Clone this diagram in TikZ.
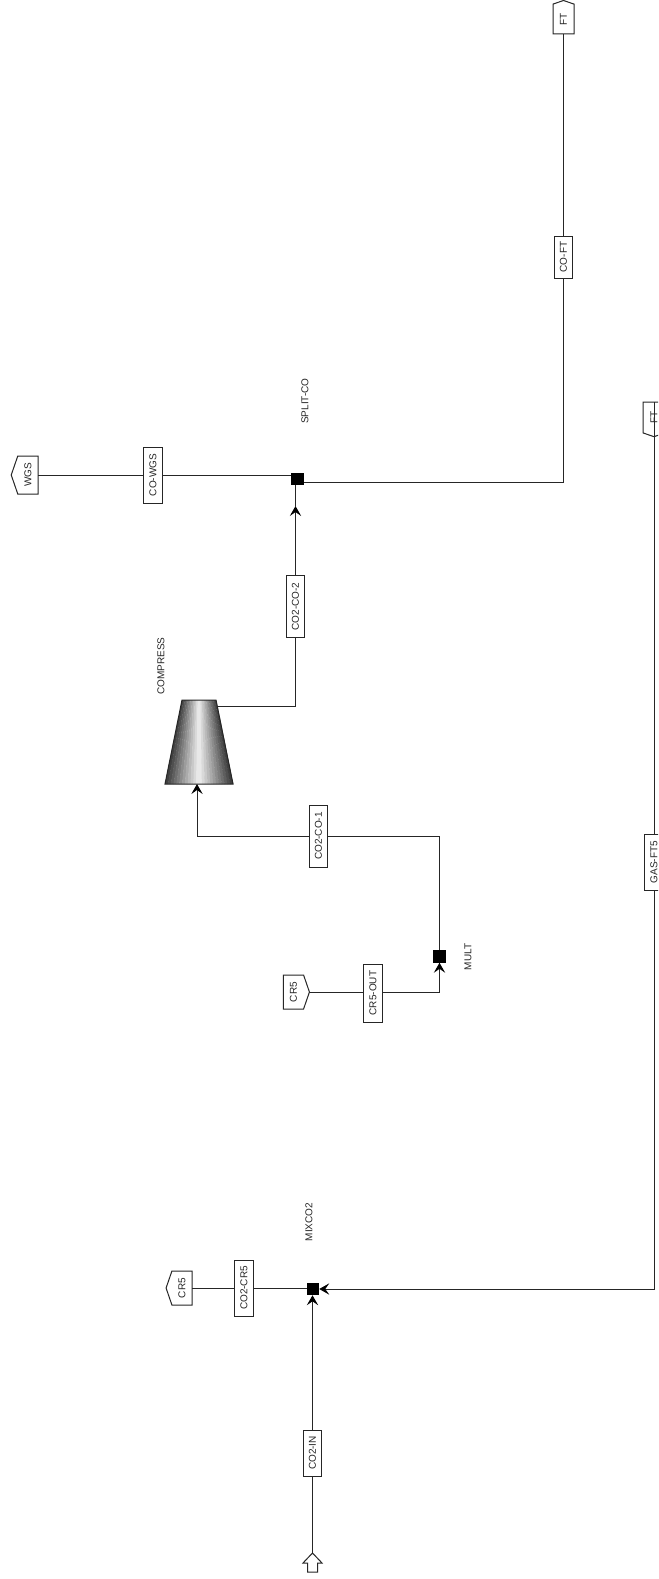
\documentclass[tikz,border=0pt]{standalone}
\usepackage{fontspec}
\setmainfont{Liberation Sans}
\usetikzlibrary{arrows.meta,shapes.symbols,positioning,calc}

\begin{document}
\begin{tikzpicture}[
    x=0.75pt, y=-0.75pt,
    every node/.style={inner sep=0pt, outer sep=0pt, font=\fontsize{7.5}{8}\selectfont, text=black!85},
    stream/.style={draw=black!85, line width=0.75pt, fill=white, rotate=90, minimum height=18.5*0.75pt},
    port/.style={shape=signal, draw=black!85, line width=0.75pt, fill=white, signal pointer angle=142},
    block/.style={fill=black, minimum size=12.5*0.75pt},
    blocklabel/.style={rotate=90},
    pipe/.style={draw=black!85, line width=0.75pt},
    feed/.style={pipe, -{Stealth[length=7.5pt,width=8.5pt,inset=3pt,color=black]}},
]
\clip (0,0) rectangle (658,1579);
\fill[white] (0,0) rectangle (658,1579);

% Blocks
\node[block] (splitco) at (297.5,479) {};
\node[block] (mult) at (439.5,956.5) {};
\node[block] (mixco2) at (313,1289) {};

% Compressor body
\foreach \t in {-12,...,11} {
    \pgfmathsetmacro{\shadeval}{6+72*abs(\t+0.5)/12}
    \fill[black!\shadeval]
        (199+17*\t/12,700) -- (199+17*\t/12+1.7,700) -- (199+34*\t/12+3.2,784) -- (199+34*\t/12,784) -- cycle;
}
\draw[draw=black!85, line width=0.75pt] (182,700) -- (216,700) -- (233,784) -- (165,784) -- cycle;

% Block labels
\node[blocklabel] (labelsplit) at (305,401) {SPLIT-CO};
\node[blocklabel] (labelcomp) at (161,666) {COMPRESS};
\node[blocklabel] (labelmult) at (468,957) {MULT};
\node[blocklabel] (labelmix) at (309,1222) {MIXCO2};

% Ports
\node[port, signal to=west, minimum width=27*0.75pt, minimum height=38*0.75pt] (wgs) at (28,475) {\rotatebox{90}{WGS}};
\node[port, signal to=east, minimum width=26*0.75pt, minimum height=34*0.75pt] (crfive) at (293.5,992) {\rotatebox{90}{CR5}};
\node[port, signal to=west, minimum width=26*0.75pt, minimum height=34*0.75pt] (crsix) at (182,1288) {\rotatebox{90}{CR5}};
\node[port, signal to=north, minimum width=21*0.75pt, minimum height=31*0.75pt] (ftout) at (563.5,19) {\rotatebox{90}{FT}};
\node[port, signal to=south, minimum width=22*0.75pt, minimum height=32*0.75pt] (ftin) at (654,417.5) {\rotatebox{90}{FT}};

% Stream tags
\node[stream, minimum width=56*0.75pt] (cowgs) at (153,475) {CO-WGS};
\node[stream, minimum width=62*0.75pt] (cotwo2) at (295.5,606.5) {CO2-CO-2};
\node[stream, minimum width=62*0.75pt] (cotwo1) at (318.5,836) {CO2-CO-1};
\node[stream, minimum width=58*0.75pt] (crout) at (373,993) {CR5-OUT};
\node[stream, minimum width=56*0.75pt] (cocr) at (244,1288) {CO2-CR5};
\node[stream, minimum width=46*0.75pt] (coin) at (312.5,1453) {CO2-IN};
\node[stream, minimum width=42*0.75pt] (coft) at (563.5,257) {CO-FT};
\node[stream, minimum width=56*0.75pt] (gasft) at (654,862) {GAS-FT5};

% Feed arrow
\coordinate (feedtip) at (312.5,1553);
\draw[pipe] (feedtip) -- ++(9.5,10) -- ++(-4.5,0) -- ++(0,9) -- ++(-10,0) -- ++(0,-9) -- ++(-4.5,0) -- cycle;

% Streams
\draw[pipe] (wgs.east) -- (cowgs.north);
\draw[pipe] (cowgs.south) -- (splitco.west |- cowgs.south);
\coordinate (splitin) at (295.5,506);
\draw[feed] (cotwo2.east) -- (splitin);
\draw[pipe] (splitin) -- (splitin |- splitco.south);
\coordinate (compout) at (217,706);
\draw[pipe] (compout) -| (cotwo2.west);
\coordinate (compin) at (197,784);
\draw[feed] (cotwo1.north) -- (compin |- cotwo1.north) -- (compin);
\draw[pipe] (cotwo1.south) -- (mult.north |- cotwo1.south) -- (mult.north);
\draw[pipe] (crfive.east) -- (crfive.east -| crout.north);
\draw[feed] (crfive.east -| crout.south) -- (mult.south |- crfive.east) -- (mult.south);
\draw[pipe] (crsix.east) -- (cocr.north);
\draw[pipe] (cocr.south) -- (mixco2.west |- cocr.south);
\draw[feed] (coin.east) -- (coin.east |- mixco2.south);
\draw[pipe] (feedtip) -- (coin.west);
\draw[pipe] ($(splitco.east)+(0,3)$) -| (coft.west);
\draw[pipe] (coft.east) -- (ftout.south);
\draw[pipe] (ftin.north) -- (gasft.east);
\draw[feed] (gasft.west) |- (mixco2.east);

\end{tikzpicture}
\end{document}
